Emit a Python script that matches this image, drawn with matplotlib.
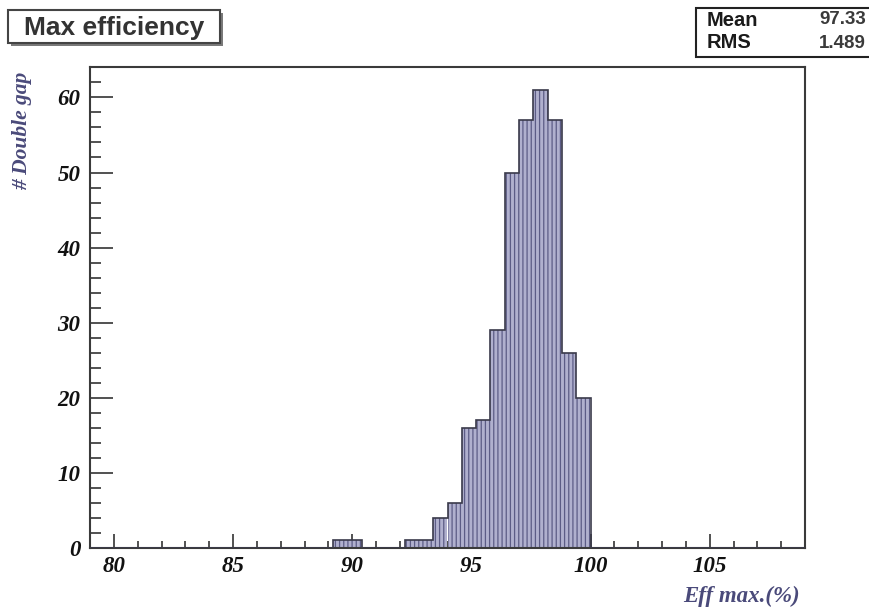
import numpy as np
import matplotlib
matplotlib.use("Agg")
import matplotlib.pyplot as plt
from matplotlib.patches import Rectangle
from matplotlib.ticker import MultipleLocator

# Histogram binning: 50 bins between 79 and 109
x_min, x_max, n_bins = 79.0, 109.0, 50
counts = [0, 0, 0, 0, 0, 0, 0, 0, 0, 0,
          0, 0, 0, 0, 0, 0, 0, 1, 1, 0,
          0, 0, 1, 1, 4, 6, 16, 17, 29, 50,
          57, 61, 57, 26, 20, 0, 0, 0, 0, 0,
          0, 0, 0, 0, 0, 0, 0, 0, 0, 0]

title = "Max efficiency"
stat_names = ["Mean", "RMS"]
stat_values = ["97.33", "1.489"]
x_label = "Eff max.(%)"
y_label = "# Double gap"

W, H = 870, 611
plt.rcParams["hatch.linewidth"] = 0.9

fig = plt.figure(figsize=(W / 100, H / 100), dpi=100)
fig.patch.set_facecolor("white")
ax = fig.add_axes([90 / W, 63 / H, 715 / W, 481 / H])

edges = np.linspace(x_min, x_max, n_bins + 1)
ax.bar(edges[:-1], counts, width=np.diff(edges), align="edge",
       color="#b0b0ce", edgecolor="#5c5c86", linewidth=0,
       hatch="||||", zorder=2)
ax.stairs(counts, edges, baseline=0, color="#3a3a4a", linewidth=1.2, zorder=3)

ax.set_xlim(x_min, x_max)
ax.set_ylim(0, 1.05 * max(counts))

ax.xaxis.set_major_locator(MultipleLocator(5))
ax.xaxis.set_minor_locator(MultipleLocator(1))
ax.yaxis.set_major_locator(MultipleLocator(10))
ax.yaxis.set_minor_locator(MultipleLocator(2))

tick_font = dict(family="Liberation Serif", weight="bold", style="italic", size=16.5)
ax.tick_params(axis="x", which="major", direction="in", length=10, width=1.2,
               color="#333333", pad=6)
ax.tick_params(axis="x", which="minor", direction="in", length=5, width=1.2,
               color="#333333")
ax.tick_params(axis="y", which="major", direction="in", length=16.5, width=1.2,
               color="#333333", pad=7)
ax.tick_params(axis="y", which="minor", direction="in", length=8, width=1.2,
               color="#333333")
for lab in ax.get_xticklabels() + ax.get_yticklabels():
    lab.set_fontproperties(matplotlib.font_manager.FontProperties(**tick_font))
    lab.set_color("#111111")

for side in ["left", "right", "top", "bottom"]:
    ax.spines[side].set_color("#3a3a3a")
    ax.spines[side].set_linewidth(1.5)
ax.spines["top"].set_zorder(4)

label_color = "#4a4a7a"
ax.text(-0.095, 0.99, y_label, transform=ax.transAxes, rotation=90,
        ha="center", va="top", color=label_color,
        family="Liberation Serif", weight="bold", style="italic", fontsize=15.5)
ax.text(0.993, -0.1, x_label, transform=ax.transAxes,
        ha="right", va="center", color=label_color,
        family="Liberation Serif", weight="bold", style="italic", fontsize=16.5)


def px_rect(x0, y0, x1, y1, **kw):
    return Rectangle((x0 / W, 1 - y1 / H), (x1 - x0) / W, (y1 - y0) / H,
                     transform=fig.transFigure, **kw)


# Title box with drop shadow
fig.patches.append(px_rect(11, 13, 223, 46, facecolor="#7a7a7a", edgecolor="none"))
fig.patches.append(px_rect(8, 10, 220, 43, facecolor="white", edgecolor="#444444",
                           linewidth=1.5))
fig.text(24 / W, 1 - 28 / H, title, ha="left", va="center", color="#333333",
         family="Liberation Sans", weight="bold", fontsize=19)

# Statistics box
fig.patches.append(px_rect(696, 8, 880, 57, facecolor="white", edgecolor="#222222",
                           linewidth=1.5))
for i, (name, val) in enumerate(zip(stat_names, stat_values)):
    y = 1 - (20 + 23 * i) / H
    fig.text(707 / W, y, name, ha="left", va="center", color="#1a1a1a",
             family="Liberation Sans", weight="bold", fontsize=14.5)
    fig.text(866 / W, y, val, ha="right", va="center", color="#3a3a3a",
             family="Liberation Sans", weight="bold", fontsize=13.5)

fig.savefig("out.png", dpi=100)
